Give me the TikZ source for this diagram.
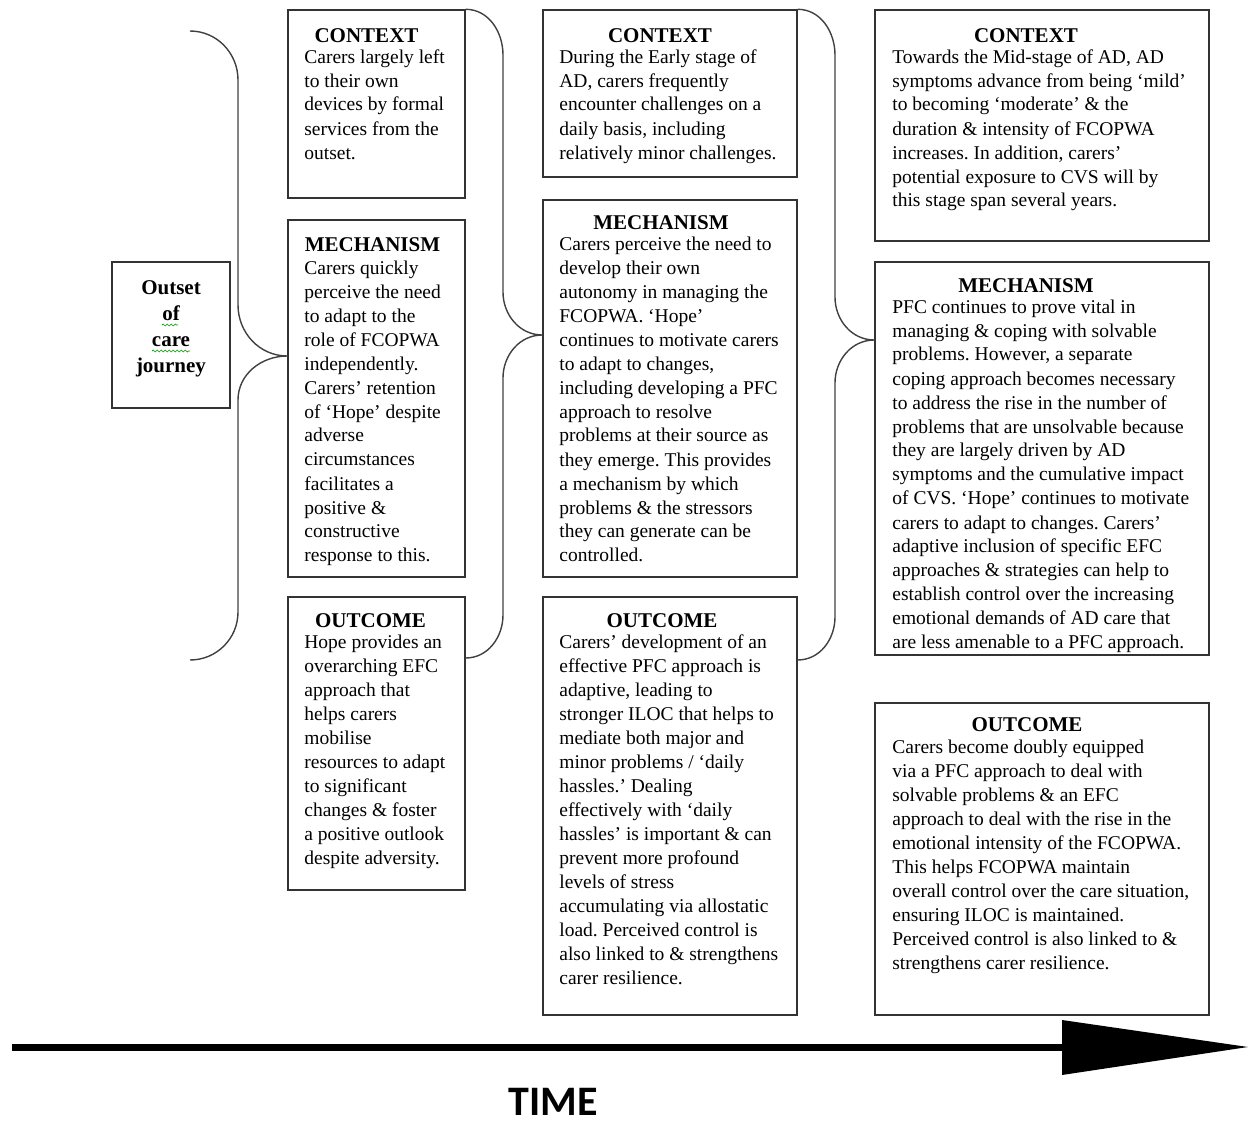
\documentclass[tikz,border=0pt]{standalone}
\usepackage{fontspec}
\setmainfont{Liberation Serif}
\newfontfamily\timefont{Carlito}
\usetikzlibrary{decorations.pathmorphing}
\frenchspacing
\tikzset{
 box/.style={draw=black!80, line width=0.7pt, inner sep=0pt},
 head/.style={anchor=base, inner sep=0pt, font=\fontsize{10.5}{12}\selectfont\bfseries},
 body/.style={anchor=base west, inner sep=0pt, font=\fontsize{9.75}{12}\selectfont},
 brace/.style={draw=black!75, line width=0.7pt},
 squiggle/.style={draw=green!60!black, line width=0.35pt, decorate, decoration={snake, amplitude=0.5pt, segment length=2pt}},
}
\newcommand{\lns}[1]{\begin{tabular}[t]{@{}l@{}}#1\end{tabular}}
\begin{document}
\begin{tikzpicture}[x=0.5pt,y=-0.5pt]
\useasboundingbox (0,0) rectangle (1250,1124);

% boxes
\node[box, minimum width=59pt, minimum height=73pt] (outset) at (171,335) {};
\node[box, minimum width=88.5pt, minimum height=94pt] (ctx1) at (376.5,104) {};
\node[box, minimum width=88.5pt, minimum height=178.5pt] (mech1) at (376.5,398.5) {};
\node[box, minimum width=88.5pt, minimum height=146.5pt] (out1) at (376.5,743.5) {};
\node[box, minimum width=127pt, minimum height=83.5pt] (ctx2) at (670,93.5) {};
\node[box, minimum width=127pt, minimum height=188.5pt] (mech2) at (670,388.5) {};
\node[box, minimum width=127pt, minimum height=209pt] (out2) at (670,806) {};
\node[box, minimum width=167pt, minimum height=115.5pt] (ctx3) at (1042,125.5) {};
\node[box, minimum width=167pt, minimum height=196.5pt] (mech3) at (1042,458.5) {};
\node[box, minimum width=167pt, minimum height=156pt] (out3) at (1042,859) {};

% outset text
\node[anchor=base, inner sep=0pt, font=\fontsize{10.5}{13}\selectfont\bfseries] (outsettext) at (171,294)
 {\begin{tabular}[t]{@{}c@{}}Outset\\of\\care\\journey\end{tabular}};
\draw[squiggle] (162,325) -- (178,325);
\draw[squiggle] (152,351) -- (190,351);

% column 1
\node[head] (h1a) at (366.5,42) {CONTEXT};
\node[body] (t1a) at (304,63) {\lns{Carers largely left\\to their own\\devices by formal\\services from the\\outset.}};
\node[head] (h1b) at (372.5,251) {MECHANISM};
\node[body] (t1b) at (304,274) {\lns{Carers quickly\\perceive the need\\to adapt to the\\role of FCOPWA\\independently.\\Carers’ retention\\of ‘Hope’ despite\\adverse\\circumstances\\facilitates a\\positive \&\\constructive\\response to this.}};
\node[head] (h1c) at (370.5,627) {OUTCOME};
\node[body] (t1c) at (304,648) {\lns{Hope provides an\\overarching EFC\\approach that\\helps carers\\mobilise\\resources to adapt\\to significant\\changes \& foster\\a positive outlook\\despite adversity.}};

% column 2
\node[head] (h2a) at (660,42) {CONTEXT};
\node[body] (t2a) at (559,63) {\lns{During the Early stage of\\AD, carers frequently\\encounter challenges on a\\daily basis, including\\relatively minor challenges.}};
\node[head] (h2b) at (661,229) {MECHANISM};
\node[body] (t2b) at (559,250) {\lns{Carers perceive the need to\\develop their own\\autonomy in managing the\\FCOPWA. ‘Hope’\\continues to motivate carers\\to adapt to changes,\\including developing a PFC\\approach to resolve\\problems at their source as\\they emerge. This provides\\a mechanism by which\\problems \& the stressors\\they can generate can be\\controlled.}};
\node[head] (h2c) at (662,627) {OUTCOME};
\node[body] (t2c) at (559,648) {\lns{Carers’ development of an\\effective PFC approach is\\adaptive, leading to\\stronger ILOC that helps to\\mediate both major and\\minor problems / ‘daily\\hassles.’ Dealing\\effectively with ‘daily\\hassles’ is important \& can\\prevent more profound\\levels of stress\\accumulating via allostatic\\load. Perceived control is\\also linked to \& strengthens\\carer resilience.}};

% column 3
\node[head] (h3a) at (1026,42) {CONTEXT};
\node[body] (t3a) at (892,63) {\lns{Towards the Mid-stage of AD, AD\\symptoms advance from being ‘mild’\\to becoming ‘moderate’ \& the\\duration \& intensity of FCOPWA\\increases. In addition, carers’\\potential exposure to CVS will by\\this stage span several years.}};
\node[head] (h3b) at (1026,292) {MECHANISM};
\node[body] (t3b) at (892,313) {\lns{PFC continues to prove vital in\\managing \& coping with solvable\\problems. However, a separate\\coping approach becomes necessary\\to address the rise in the number of\\problems that are unsolvable because\\they are largely driven by AD\\symptoms and the cumulative impact\\of CVS. ‘Hope’ continues to motivate\\carers to adapt to changes. Carers’\\adaptive inclusion of specific EFC\\approaches \& strategies can help to\\establish control over the increasing\\emotional demands of AD care that\\are less amenable to a PFC approach.}};
\node[head] (h3c) at (1027,731) {OUTCOME};
\node[body] (t3c) at (892,753) {\lns{Carers become doubly equipped\\via a PFC approach to deal with\\solvable problems \& an EFC\\approach to deal with the rise in the\\emotional intensity of the FCOPWA.\\This helps FCOPWA maintain\\overall control over the care situation,\\ensuring ILOC is maintained.\\Perceived control is also linked to \&\\strengthens carer resilience.}};

% braces
\coordinate (b0top) at (190,31);
\coordinate (b0tip) at (mech1.west |- 0,356);
\coordinate (b0bot) at (190,660);
\draw[brace] (b0top) to[out=0,in=90] (238,80) -- (238,305) to[out=-90,in=180] (b0tip)
  (b0tip) to[out=180,in=90] (238,400) -- (238,612) to[out=-90,in=0] (b0bot);

\coordinate (b1tip) at (mech2.west |- 0,335);
\coordinate (b1bot) at (out1.east |- 0,658);
\draw[brace] (ctx1.north east) to[out=0,in=90] (503,55) -- (503,292) to[out=-90,in=180] (b1tip)
  (b1tip) to[out=180,in=90] (503,378) -- (503,615) to[out=-90,in=0] (b1bot);

\coordinate (b2tip) at (mech3.west |- 0,340);
\coordinate (b2bot) at (out2.east |- 0,660);
\draw[brace] (ctx2.north east) to[out=0,in=90] (835,55) -- (835,297) to[out=-90,in=180] (b2tip)
  (b2tip) to[out=180,in=90] (835,383) -- (835,617) to[out=-90,in=0] (b2bot);

% time arrow
\coordinate (tstart) at (12,1047);
\coordinate (tend) at (1064,1047);
\draw[line width=3.5pt] (tstart) -- (tend);
\fill (1062,1020) -- (1248,1047) -- (1062,1075) -- cycle;
\node[anchor=base, inner sep=0pt, text depth=0pt, font=\timefont\bfseries\fontsize{21}{24}\selectfont] (time) at (553,1115) {TIME};
\end{tikzpicture}
\end{document}
